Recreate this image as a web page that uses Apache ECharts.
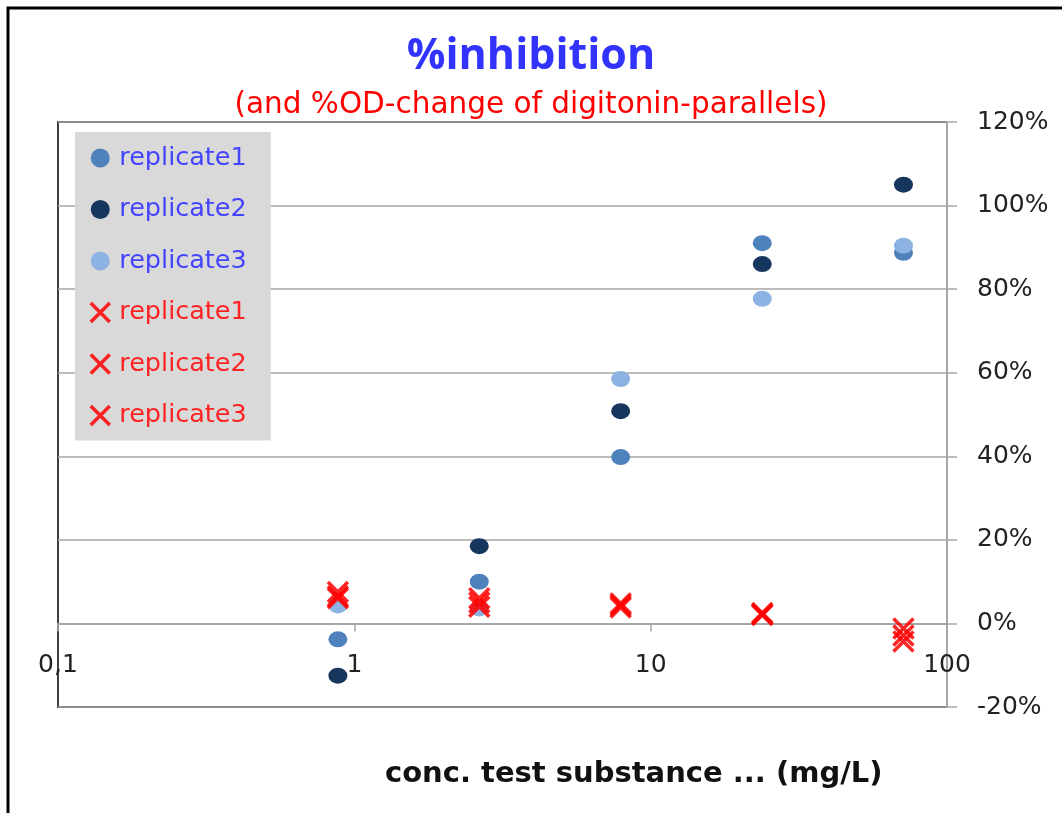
<!DOCTYPE html>
<html>
<head>
<meta charset="utf-8">
<script src="https://cdn.jsdelivr.net/npm/echarts@6/dist/echarts.min.js"></script>
<style>
html,body{margin:0;padding:0;background:#fff;}
#chart{width:1062px;height:813px;}
</style>
</head>
<body>
<div id="chart"></div>
<script>
// concentrations (mg/L)
var conc = [0.88, 2.64, 7.92, 23.8, 71.3];
// %inhibition replicates
var rep1 = [-3.8, 10.0, 39.8, 91.0, 88.7];
var rep2 = [-12.5, 18.5, 50.8, 86.0, 105.0];
var rep3 = [4.3, 3.6, 58.5, 77.7, 90.4];
// %OD-change of digitonin parallels
var dig1 = [7.5, 6.0, 4.8, 2.5, -1.2];
var dig2 = [6.5, 5.0, 4.3, 2.2, -2.9];
var dig3 = [6.0, 4.0, 3.8, 2.0, -4.3];
var xTicks = [0.1, 1, 10, 100];
var yTicks = [-20, 0, 20, 40, 60, 80, 100, 120];

var TFONT = 'Open Sans';
var FONT = 'DejaVu Sans';
var crossPath = 'path://M0,0L20,20M20,0L0,20';

function pts(ys){ return conc.map(function(c,i){ return [c, ys[i]]; }); }

function circleSeries(name, color, ys){
  return {name:name, type:'scatter', data:pts(ys), symbol:'circle', symbolSize:[19,16],
    itemStyle:{color:color, opacity:1}, z:2};
}
function crossSeries(name, ys){
  return {name:name, type:'scatter', data:pts(ys), symbol:crossPath, symbolSize:20,
    itemStyle:{color:'rgba(0,0,0,0)', borderColor:'#ff0000', borderWidth:3.5, opacity:0.85}, z:3};
}
function crossLegend(name){
  return {name:name, icon:crossPath, textStyle:{color:'#ff2222'},
    itemStyle:{color:'rgba(0,0,0,0)', borderColor:'#ff0000', borderWidth:3.5}};
}

var chart = echarts.init(document.getElementById('chart'));
chart.setOption({
  backgroundColor:'#ffffff',
  animation:false,
  title:[
    {text:'%inhibition', left:'center', top:30,
     textStyle:{fontFamily:TFONT, fontSize:43, fontWeight:'bold', color:'#3333ff'}},
    {text:'(and %OD-change of digitonin-parallels)', left:'center', top:85,
     textStyle:{fontFamily:FONT, fontSize:29.5, fontWeight:'normal', color:'#ff0000'}},
    {text:'conc. test substance ... (mg/L)', left:380, top:755,
     textStyle:{fontFamily:FONT, fontSize:29, fontWeight:'bold', color:'#111111'}}
  ],
  graphic:[
    {type:'rect', shape:{x:8, y:8, width:1200, height:1000},
     style:{fill:'none', stroke:'#000', lineWidth:3}, z:100, silent:true}
  ],
  legend:{
    orient:'vertical', left:75, top:132,
    backgroundColor:'#d9d9d9', padding:[13,24,12,14],
    itemWidth:22, itemHeight:19, itemGap:25.5,
    selectedMode:false,
    formatter:function(n){ return n.replace(' (digitonin)',''); },
    textStyle:{fontFamily:FONT, fontSize:25.5, padding:[0,0,0,3]},
    data:[
      {name:'replicate1', icon:'circle', textStyle:{color:'#4444ff'}},
      {name:'replicate2', icon:'circle', textStyle:{color:'#4444ff'}},
      {name:'replicate3', icon:'circle', textStyle:{color:'#4444ff'}},
      crossLegend('replicate1 (digitonin)'),
      crossLegend('replicate2 (digitonin)'),
      crossLegend('replicate3 (digitonin)')
    ]
  },
  grid:{left:58, right:115, top:122, bottom:106, show:true, borderColor:'#404040', borderWidth:2, backgroundColor:'#fff'},
  xAxis:{
    type:'log', logBase:10, min:xTicks[0], max:xTicks[xTicks.length-1],
    offset:-83.6,
    axisLine:{show:true, onZero:false, lineStyle:{color:'#a6a6a6', width:2}},
    axisTick:{show:true, inside:false, length:8, lineStyle:{color:'#a6a6a6', width:1.5}},
    splitLine:{show:false}, minorTick:{show:false},
    axisLabel:{margin:30, fontFamily:FONT, fontSize:25, color:'#222',
      formatter:function(v){ return String(v).replace('.', ','); }}
  },
  yAxis:{
    type:'value', position:'right', min:yTicks[0], max:yTicks[yTicks.length-1], interval:20,
    axisLine:{show:true, lineStyle:{color:'#a6a6a6', width:2}},
    axisTick:{show:true, inside:false, length:10, lineStyle:{color:'#a6a6a6', width:1.5}},
    splitLine:{show:true, lineStyle:{color:'#a6a6a6', width:1.5}},
    axisLabel:{margin:30, fontFamily:FONT, fontSize:25, color:'#222', formatter:'{value}%'}
  },
  series:[
    circleSeries('replicate1', '#4f81bd', rep1),
    circleSeries('replicate2', '#17365d', rep2),
    circleSeries('replicate3', '#8db3e2', rep3),
    crossSeries('replicate1 (digitonin)', dig1),
    crossSeries('replicate2 (digitonin)', dig2),
    crossSeries('replicate3 (digitonin)', dig3)
  ]
});
</script>
</body>
</html>
